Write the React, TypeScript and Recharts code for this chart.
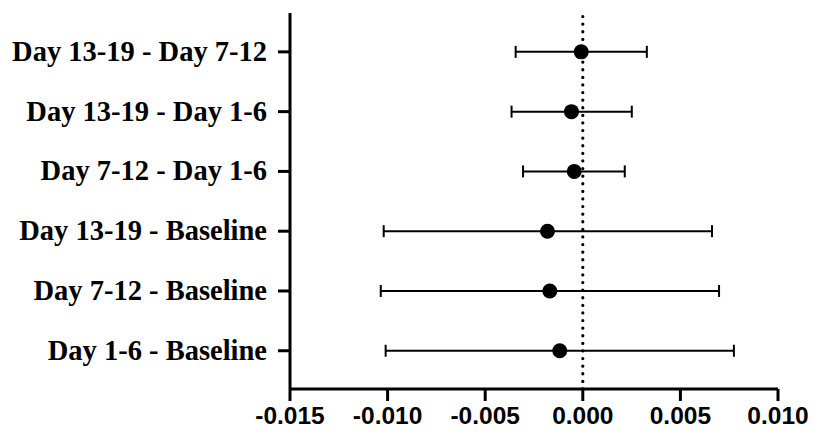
import React from "react";
import { ScatterChart, Scatter, XAxis, YAxis, ErrorBar, ReferenceLine } from "recharts";

const comparisons = [
  "Day 1-6 - Baseline",
  "Day 7-12 - Baseline",
  "Day 13-19 - Baseline",
  "Day 7-12 - Day 1-6",
  "Day 13-19 - Day 1-6",
  "Day 13-19 - Day 7-12",
];
const estimates = [-0.00118, -0.00169, -0.00181, -0.00044, -0.00058, -0.00008];
const lowerCI = [-0.0101, -0.01035, -0.0102, -0.00306, -0.00365, -0.00344];
const upperCI = [0.00774, 0.00698, 0.00662, 0.00215, 0.00251, 0.00328];
const xTicks = [-0.015, -0.01, -0.005, 0, 0.005, 0.01];
const yTicks = [1, 2, 3, 4, 5, 6];

const data = comparisons.map((name, i) => ({
  name,
  pos: i + 1,
  est: estimates[i],
  err: [estimates[i] - lowerCI[i], upperCI[i] - estimates[i]],
}));

const Dot = (props: any) => {
  const { cx, cy } = props;
  if (cx == null || cy == null) return null;
  return <circle cx={cx} cy={cy} r={7.5} fill="#000" />;
};

const YTick = (props: any) => {
  const { x, y, payload } = props;
  const label = comparisons[payload.value - 1] ?? "";
  return (
    <text
      x={x}
      y={y}
      dy={9}
      textAnchor="end"
      fontFamily="'Liberation Serif', 'Times New Roman', serif"
      fontWeight="bold"
      fontSize={28.5}
      fill="#000"
    >
      {label}
    </text>
  );
};

const XTick = (props: any) => {
  const { x, y, payload } = props;
  return (
    <text
      x={x}
      y={y}
      dy={21}
      textAnchor="middle"
      fontFamily="'Liberation Sans', Arial, sans-serif"
      fontWeight="bold"
      fontSize={24.5}
      fill="#000"
    >
      {Number(payload.value).toFixed(3)}
    </text>
  );
};

export default function App() {
  return (
    <div style={{ position: "absolute", left: 0, top: 0, background: "#fff" }}>
      <ScatterChart
        width={819}
        height={445}
        margin={{ top: 13, right: 41, bottom: 6, left: 0 }}
      >
        <XAxis
          type="number"
          dataKey="est"
          domain={[-0.015, 0.01]}
          ticks={xTicks}
          allowDataOverflow
          height={50}
          stroke="#000"
          strokeWidth={3}
          tickSize={12}
          tickLine={{ stroke: "#000", strokeWidth: 3 }}
          tick={<XTick />}
          interval={0}
        />
        <YAxis
          type="number"
          dataKey="pos"
          domain={[0.36, 6.65]}
          ticks={yTicks}
          allowDataOverflow
          width={290}
          stroke="#000"
          strokeWidth={3}
          tickSize={12}
          tickMargin={11}
          tickLine={{ stroke: "#000", strokeWidth: 3 }}
          tick={<YTick />}
          interval={0}
        />
        <ReferenceLine
          x={0}
          stroke="#000"
          strokeWidth={3.2}
          strokeDasharray="0.1 7.5"
          strokeLinecap="round"
        />
        <Scatter data={data} shape={<Dot />} isAnimationActive={false}>
          <ErrorBar
            dataKey="err"
            direction="x"
            width={6}
            stroke="#000"
            strokeWidth={2}
          />
        </Scatter>
      </ScatterChart>
    </div>
  );
}
